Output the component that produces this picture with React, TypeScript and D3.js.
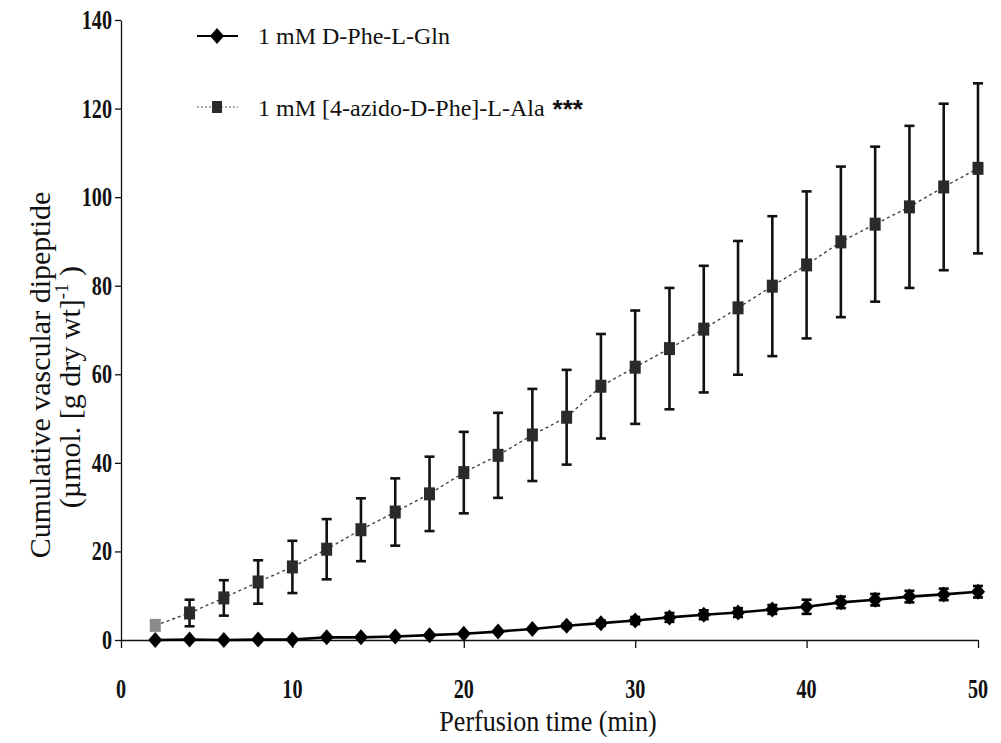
import React, { useEffect, useRef } from "react";
import * as d3 from "d3";

// perfusion time (min)
const times = [2, 4, 6, 8, 10, 12, 14, 16, 18, 20, 22, 24, 26, 28, 30, 32, 34, 36, 38, 40, 42, 44, 46, 48, 50];
// 1 mM D-Phe-L-Gln
const glnMean = [0, 0.1, 0, 0.1, 0.1, 0.6, 0.6, 0.8, 1.1, 1.4, 1.9, 2.5, 3.2, 3.8, 4.4, 5.1, 5.7, 6.2, 6.9, 7.5, 8.5, 9.1, 9.8, 10.3, 10.9];
const glnErr = [0, 0, 0, 0, 0, 0, 0, 0, 0, 0, 0, 0, 0.5, 0.6, 0.8, 1, 1, 1, 1, 1.6, 1.3, 1.3, 1.3, 1.3, 1.3];
// 1 mM [4-azido-D-Phe]-L-Ala
const alaMean = [3.3, 6.1, 9.5, 13.1, 16.5, 20.5, 24.9, 28.9, 33, 37.8, 41.7, 46.3, 50.3, 57.3, 61.6, 65.8, 70.2, 75, 79.9, 84.7, 89.9, 93.9, 97.8, 102.3, 106.5];
const alaErr = [1, 3, 4, 4.9, 5.9, 6.8, 7.1, 7.6, 8.4, 9.2, 9.6, 10.4, 10.7, 11.8, 12.8, 13.7, 14.3, 15.1, 15.8, 16.6, 17, 17.5, 18.3, 18.8, 19.2];

const xTicks = [0, 10, 20, 30, 40, 50];
const yTicks = [0, 20, 40, 60, 80, 100, 120, 140];
const legendLabels = ["1 mM D-Phe-L-Gln", "1 mM [4-azido-D-Phe]-L-Ala"];

const FONT = "'Liberation Serif', 'Times New Roman', serif";

function diamond(cx: number, cy: number) {
  return `M${cx},${cy - 8}L${cx + 7},${cy}L${cx},${cy + 8}L${cx - 7},${cy}Z`;
}

export default function App() {
  const ref = useRef<SVGSVGElement>(null);

  useEffect(() => {
    document.body.style.margin = "0";
    const svg = d3.select(ref.current);
    svg.selectAll("*").remove();

    const x = d3.scaleLinear().domain([0, 50]).range([121, 978]);
    const y = d3.scaleLinear().domain([0, 140]).range([640, 20]);

    const gln = times.map((t, i) => ({ t, m: glnMean[i], e: glnErr[i] }));
    const ala = times.map((t, i) => ({ t, m: alaMean[i], e: alaErr[i] }));

    // axes
    const xAxis = svg
      .append("g")
      .attr("transform", `translate(0,${y(0)})`)
      .call(d3.axisBottom(x).tickValues(xTicks).tickSize(8).tickSizeOuter(0).tickFormat(() => ""));
    xAxis.select(".domain").attr("stroke", "#111").attr("stroke-width", 1.3);
    xAxis.selectAll(".tick line").attr("stroke", "#111").attr("stroke-width", 1.3);

    const yAxis = svg
      .append("g")
      .attr("transform", `translate(${x(0)},0)`)
      .call(d3.axisLeft(y).tickValues(yTicks).tickSize(6).tickSizeOuter(0).tickFormat(() => ""));
    yAxis.select(".domain").attr("stroke", "#111").attr("stroke-width", 1.3);
    yAxis.selectAll(".tick line").attr("stroke", "#111").attr("stroke-width", 1.3);

    // tick labels (condensed serif, like the scan)
    svg
      .append("g")
      .selectAll("text")
      .data(xTicks)
      .join("text")
      .attr("transform", (d) => `translate(${x(d)},${698}) scale(0.72,1)`)
      .attr("text-anchor", "middle")
      .attr("font-family", FONT)
      .attr("font-size", 28)
      .attr("font-weight", "bold")
      .attr("fill", "#111")
      .text((d) => d);

    svg
      .append("g")
      .selectAll("text")
      .data(yTicks)
      .join("text")
      .attr("transform", (d) => `translate(${112},${y(d) + 9}) scale(0.72,1)`)
      .attr("text-anchor", "end")
      .attr("font-family", FONT)
      .attr("font-size", 28)
      .attr("font-weight", "bold")
      .attr("fill", "#111")
      .text((d) => d);

    // axis titles
    svg
      .append("text")
      .attr("transform", `translate(${548},${731}) scale(0.9,1)`)
      .attr("text-anchor", "middle")
      .attr("font-family", FONT)
      .attr("font-size", 29)
      .attr("fill", "#111")
      .text("Perfusion time (min)");

    const yt = svg
      .append("text")
      .attr("transform", `translate(50,${375}) rotate(-90)`)
      .attr("text-anchor", "middle")
      .attr("font-family", FONT)
      .attr("font-size", 30)
      .attr("fill", "#111");
    yt.append("tspan").attr("x", 0).attr("dy", 0).text("Cumulative vascular dipeptide");
    const t2 = yt.append("tspan").attr("x", -12).attr("dy", 30);
    t2.append("tspan").text("(\u00b5mol. [g dry wt]");
    t2.append("tspan").attr("font-size", 19).attr("dy", -12).text("-1");
    t2.append("tspan").attr("dy", 12).text(" )");

    // series 2: dotted line, grey squares
    const line = d3
      .line<{ t: number; m: number }>()
      .x((d) => x(d.t))
      .y((d) => y(d.m));

    svg
      .append("path")
      .datum(ala)
      .attr("d", line)
      .attr("fill", "none")
      .attr("stroke", "#444")
      .attr("stroke-width", 1.4)
      .attr("stroke-dasharray", "3,3");

    const errG = svg.append("g").attr("stroke", "#111").attr("stroke-width", 2.6);
    ala.forEach((d) => {
      if (d.e <= 1) return;
      const cx = x(d.t);
      errG.append("line").attr("x1", cx).attr("x2", cx).attr("y1", y(d.m + d.e)).attr("y2", y(d.m - d.e));
      errG.append("line").attr("x1", cx - 5).attr("x2", cx + 5).attr("y1", y(d.m + d.e)).attr("y2", y(d.m + d.e));
      errG.append("line").attr("x1", cx - 5).attr("x2", cx + 5).attr("y1", y(d.m - d.e)).attr("y2", y(d.m - d.e));
    });

    svg
      .append("g")
      .selectAll("rect")
      .data(ala)
      .join("rect")
      .attr("x", (d) => x(d.t) - 5.5)
      .attr("y", (d) => y(d.m) - 6.5)
      .attr("width", 11)
      .attr("height", 13)
      .attr("fill", (d, i) => (i === 0 ? "#8a8a8a" : "#2a2a2a"));

    // series 1: solid line, black diamonds
    svg
      .append("path")
      .datum(gln)
      .attr("d", line)
      .attr("fill", "none")
      .attr("stroke", "#000")
      .attr("stroke-width", 2.6);

    const errG2 = svg.append("g").attr("stroke", "#000").attr("stroke-width", 2.6);
    gln.forEach((d) => {
      if (d.e <= 0) return;
      const cx = x(d.t);
      errG2.append("line").attr("x1", cx).attr("x2", cx).attr("y1", y(d.m + d.e)).attr("y2", y(d.m - d.e));
      errG2.append("line").attr("x1", cx - 5).attr("x2", cx + 5).attr("y1", y(d.m + d.e)).attr("y2", y(d.m + d.e));
      errG2.append("line").attr("x1", cx - 5).attr("x2", cx + 5).attr("y1", y(d.m - d.e)).attr("y2", y(d.m - d.e));
    });

    svg
      .append("g")
      .selectAll("path")
      .data(gln)
      .join("path")
      .attr("d", (d) => diamond(x(d.t), y(d.m)))
      .attr("fill", "#000");

    // legend
    const lg = svg.append("g");
    lg.append("line").attr("x1", 197).attr("x2", 238).attr("y1", 36).attr("y2", 36).attr("stroke", "#000").attr("stroke-width", 2);
    lg.append("path").attr("d", diamond(217, 36)).attr("fill", "#000");
    lg.append("line").attr("x1", 197).attr("x2", 238).attr("y1", 107).attr("y2", 107)
      .attr("stroke", "#555").attr("stroke-width", 1.2).attr("stroke-dasharray", "2,2");
    lg.append("rect").attr("x", 212).attr("y", 101).attr("width", 10).attr("height", 12).attr("fill", "#2a2a2a");
    const labs = lg.selectAll("text.lab")
      .data(legendLabels)
      .join("text")
      .attr("class", "lab")
      .attr("x", 258)
      .attr("y", (d, i) => (i === 0 ? 44 : 116))
      .attr("font-family", FONT)
      .attr("font-size", 24)
      .attr("fill", "#111")
      .text((d) => d);
    // significance stars after the second label
    labs
      .filter((d, i) => i === 1)
      .append("tspan")
      .attr("font-family", "'Liberation Sans', Arial, sans-serif")
      .attr("font-weight", "bold")
      .attr("font-size", 26)
      .attr("dx", 8)
      .attr("dy", 2)
      .text("***");
  }, []);

  return <svg ref={ref} width={1001} height={743} style={{ display: "block", background: "#fff" }} />;
}
